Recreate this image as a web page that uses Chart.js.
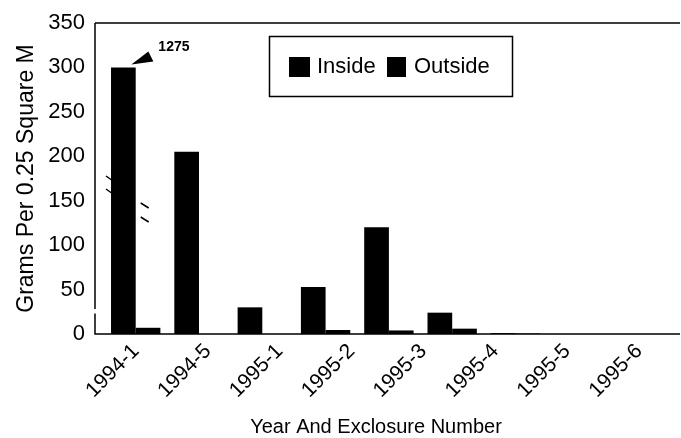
<!DOCTYPE html>
<html>
<head>
<meta charset="utf-8">
<script src="https://cdn.jsdelivr.net/npm/chart.js@4"></script>
<style>
  html, body { margin: 0; padding: 0; background: #fff; }
  #wrap { width: 681px; height: 438px; }
</style>
</head>
<body>
<div id="wrap"><canvas id="grafico" width="681" height="438"></canvas></div>
<script>
const categorias = ["1994-1", "1994-5", "1995-1", "1995-2", "1995-3", "1995-4", "1995-5", "1995-6"];
const dentro = [300, 205, 30, 53, 120, 24, 1, 0];
const fuera = [7, 0, 0, 4.5, 4, 6, 0.5, 0];
const valorReal = "1275";
const yMax = 350;
const yPaso = 50;
const tituloX = "Year And Exclosure Number";
const tituloY = "Grams Per 0.25 Square M";

const fuente = "'Liberation Sans', Arial, sans-serif";

// en el original las barras no caen bajo sus etiquetas: van en un eje lineal propio
const puntos = valores => valores.map((v, i) => ({ x: i, y: v }));

// marco, leyenda, nota del valor cortado y titulo x
const extras = {
    id: "extras",
    afterDraw(chart) {
        const ctx = chart.ctx;
        const area = chart.chartArea;
        const y = chart.scales.y;
        const fin = chart.width - 1;
        ctx.save();
        ctx.strokeStyle = "#000";
        ctx.lineWidth = 1.5;
        ctx.beginPath();
        ctx.moveTo(area.left, area.top);
        ctx.lineTo(fin, area.top);
        ctx.moveTo(area.left, area.top);
        ctx.lineTo(area.left, y.getPixelForValue(28));
        ctx.moveTo(area.left, y.getPixelForValue(23));
        ctx.lineTo(area.left, area.bottom);
        ctx.lineTo(fin, area.bottom);
        ctx.stroke();

        // barra cortada
        const barra = chart.getDatasetMeta(0).data[0];
        const izq = barra.x - barra.width / 2;
        const der = barra.x + barra.width / 2;
        ctx.lineWidth = 1.5;
        ctx.beginPath();
        ctx.moveTo(izq - 5, 176); ctx.lineTo(izq + 2, 181);
        ctx.moveTo(izq - 5, 189); ctx.lineTo(izq + 2, 194);
        ctx.moveTo(der + 5, 203); ctx.lineTo(der + 13, 208);
        ctx.moveTo(der + 5, 217); ctx.lineTo(der + 13, 222);
        ctx.stroke();

        ctx.fillStyle = "#000";
        ctx.beginPath();
        ctx.moveTo(barra.x + 8, barra.y - 3);
        ctx.lineTo(barra.x + 25, barra.y - 16);
        ctx.lineTo(barra.x + 30, barra.y - 6);
        ctx.closePath();
        ctx.fill();
        ctx.font = "bold 14px " + fuente;
        ctx.textAlign = "left";
        ctx.textBaseline = "middle";
        ctx.fillText(valorReal, barra.x + 35, barra.y - 20);

        // leyenda
        ctx.lineWidth = 1.5;
        ctx.strokeRect(269.5, 36.5, 243, 60);
        ctx.font = "22px " + fuente;
        const ds = chart.data.datasets;
        ctx.fillStyle = ds[0].backgroundColor;
        ctx.fillRect(289, 57, 21, 20);
        ctx.fillStyle = ds[1].backgroundColor;
        ctx.fillRect(387, 57, 19, 20);
        ctx.fillStyle = "#000";
        ctx.fillText(ds[0].label, 317, 67);
        ctx.fillText(ds[1].label, 414, 67);

        ctx.font = "20px " + fuente;
        ctx.textAlign = "center";
        ctx.fillText(tituloX, 376, 427);
        ctx.restore();
    }
};

new Chart(document.getElementById("grafico"), {
    type: "bar",
    data: {
        labels: categorias,
        datasets: [
            { label: "Inside", data: puntos(dentro), backgroundColor: "#000", xAxisID: "xb" },
            { label: "Outside", data: puntos(fuera), backgroundColor: "#000", xAxisID: "xb" }
        ]
    },
    options: {
        responsive: false,
        animation: false,
        events: [],
        layout: { padding: { top: 23, right: 11, left: 0, bottom: 0 } },
        datasets: { bar: { categoryPercentage: 0.78, barPercentage: 1 } },
        scales: {
            xb: {
                type: "linear",
                display: false,
                offset: false,
                min: -0.643,
                max: 8.441
            },
            x: {
                type: "category",
                offset: true,
                grid: { display: false, drawTicks: false },
                border: { display: false },
                ticks: {
                    color: "#000",
                    font: { family: fuente, size: 21 },
                    minRotation: 45,
                    maxRotation: 45,
                    autoSkip: false,
                    labelOffset: 5,
                    padding: 5
                },
                afterFit(s) {
                    s.height = 104;
                    s.paddingLeft = 0;
                    s.paddingRight = 0;
                }
            },
            y: {
                min: 0,
                max: yMax,
                grid: { display: false, drawTicks: false },
                border: { display: false },
                ticks: {
                    stepSize: yPaso,
                    color: "#000",
                    font: { family: fuente, size: 22 },
                    padding: 10
                },
                title: {
                    display: true,
                    text: tituloY,
                    color: "#000",
                    font: { family: fuente, size: 23 },
                    padding: { top: 13, bottom: 0 }
                },
                afterFit(s) {
                    s.width = 95;
                    s.paddingTop = 0;
                    s.paddingBottom = 0;
                }
            }
        },
        plugins: {
            legend: { display: false },
            tooltip: { enabled: false }
        }
    },
    plugins: [extras]
});
</script>
</body>
</html>
